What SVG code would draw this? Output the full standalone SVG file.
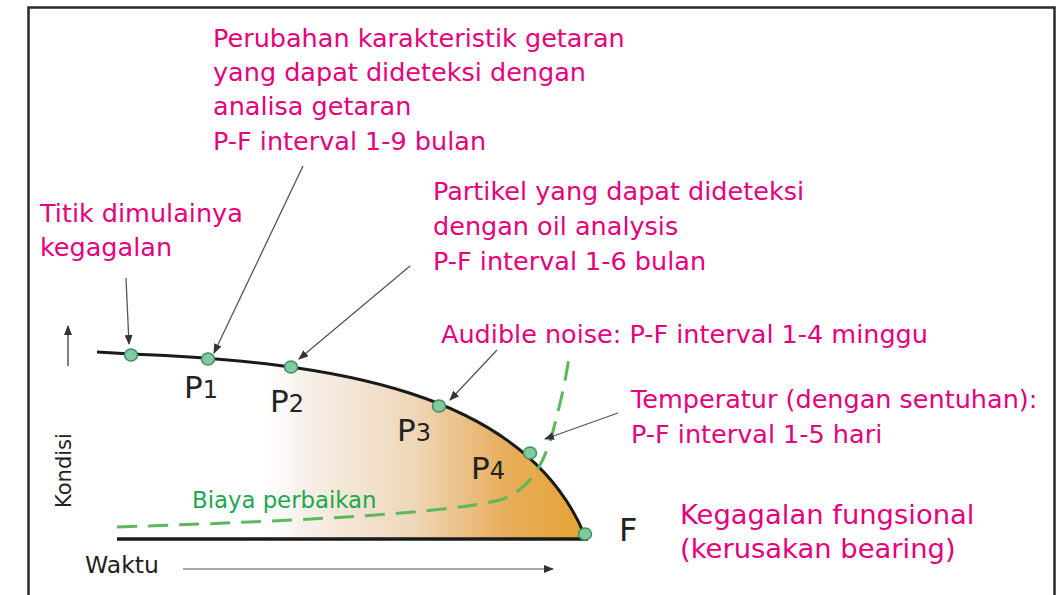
<svg xmlns="http://www.w3.org/2000/svg" width="1058" height="595" viewBox="0 0 1058 595">
<defs>
<linearGradient id="fillGrad" gradientUnits="userSpaceOnUse" x1="250" y1="0" x2="580" y2="0">
<stop offset="0" stop-color="#ffffff" stop-opacity="0"/>
<stop offset="0.15" stop-color="#f7f1ec"/>
<stop offset="0.5" stop-color="#efd6b8"/>
<stop offset="0.78" stop-color="#e7ad5a"/>
<stop offset="1" stop-color="#e6a436"/>
</linearGradient>
<marker id="ah" markerWidth="10" markerHeight="8" refX="9" refY="4" orient="auto" markerUnits="userSpaceOnUse">
<path d="M0,0 L10,4 L0,8 z" fill="#333"/>
</marker>
<style>
.mag{font-family:"DejaVu Sans",Verdana,sans-serif;font-size:25.5px;fill:#e5007e}
.blk{font-family:"DejaVu Sans",Verdana,sans-serif;fill:#222}
.ptr{stroke:#555;stroke-width:1.3;fill:none;marker-end:url(#ah)}
.dot{fill:#7fcaa0;stroke:#3f8f60;stroke-width:1.5}
</style>
</defs>
<rect x="28.5" y="7.5" width="1026" height="600" fill="#fff" stroke="#2a2a2a" stroke-width="2.5"/>
<g id="chart">
<path d="M131,354 C330,362 525,390 585,536 L585,539 L250,539 L250,380 z" fill="url(#fillGrad)"/>
<path d="M97,352 L131,354 C330,362 525,390 585,536" fill="none" stroke="#1a1a1a" stroke-width="3"/>
<line x1="117" y1="539" x2="588" y2="539" stroke="#1a1a1a" stroke-width="3.5"/>
<path d="M117,527 C330,520 450,512 500,500 C530,490 543,465 552,435 C560,405 566,380 570,350" fill="none" stroke="#5cb85f" stroke-width="3" stroke-dasharray="20,11"/>
</g>
<g id="axes">
<line x1="68" y1="366" x2="68" y2="326" stroke="#555" stroke-width="1.5" marker-end="url(#ah)"/>
<line x1="183" y1="569" x2="553" y2="569" stroke="#888" stroke-width="1.5" marker-end="url(#ah)"/>
<text class="blk" font-size="21" transform="translate(71,508) rotate(-90)">Kondisi</text>
<text class="blk" x="85" y="573" font-size="23.5">Waktu</text>
</g>
<g id="connectors">
<line class="ptr" x1="126" y1="278" x2="129" y2="344"/>
<line class="ptr" x1="303" y1="166" x2="214" y2="353"/>
<line class="ptr" x1="410" y1="266" x2="299" y2="359"/>
<line class="ptr" x1="497" y1="350" x2="450" y2="400"/>
<line class="ptr" x1="618" y1="413" x2="545" y2="439"/>
</g>
<g id="start"><ellipse class="dot" cx="131" cy="355" rx="6.5" ry="6"/>
<text class="mag" x="40" y="222">Titik dimulainya</text>
<text class="mag" x="40" y="256">kegagalan</text></g>
<g id="p1"><ellipse class="dot" cx="208" cy="359" rx="6.5" ry="6"/>
<text class="blk" x="184" y="398" font-size="31">P<tspan font-size="24">1</tspan></text>
<text class="mag" x="213" y="47">Perubahan karakteristik getaran</text>
<text class="mag" x="213" y="81">yang dapat dideteksi dengan</text>
<text class="mag" x="213" y="115">analisa getaran</text>
<text class="mag" x="213" y="150">P-F interval 1-9 bulan</text></g>
<g id="p2"><ellipse class="dot" cx="291" cy="367" rx="6.5" ry="6"/>
<text class="blk" x="270" y="412" font-size="31">P<tspan font-size="24">2</tspan></text>
<text class="mag" x="433" y="200">Partikel yang dapat dideteksi</text>
<text class="mag" x="433" y="235">dengan oil analysis</text>
<text class="mag" x="433" y="270">P-F interval 1-6 bulan</text></g>
<g id="p3"><ellipse class="dot" cx="439" cy="406" rx="6.5" ry="6"/>
<text class="blk" x="397" y="441" font-size="31">P<tspan font-size="24">3</tspan></text>
<text class="mag" x="441" y="343">Audible noise: P-F interval 1-4 minggu</text></g>
<g id="p4"><ellipse class="dot" cx="530" cy="453" rx="6.5" ry="6"/>
<text class="blk" x="471" y="479" font-size="31">P<tspan font-size="24">4</tspan></text>
<text class="mag" x="631" y="408">Temperatur (dengan sentuhan):</text>
<text class="mag" x="631" y="443">P-F interval 1-5 hari</text></g>
<g id="f"><ellipse class="dot" cx="585" cy="534" rx="6.5" ry="6"/>
<text class="blk" x="619" y="541" font-size="32">F</text>
<text class="mag" x="680" y="524" style="font-size:27.4px">Kegagalan fungsional</text>
<text class="mag" x="680" y="558" style="font-size:27.4px">(kerusakan bearing)</text></g>
<g id="cost"><text x="192" y="508" font-family="DejaVu Sans, Verdana, sans-serif" font-size="22.8" fill="#1aa84f">Biaya perbaikan</text></g>
</svg>
